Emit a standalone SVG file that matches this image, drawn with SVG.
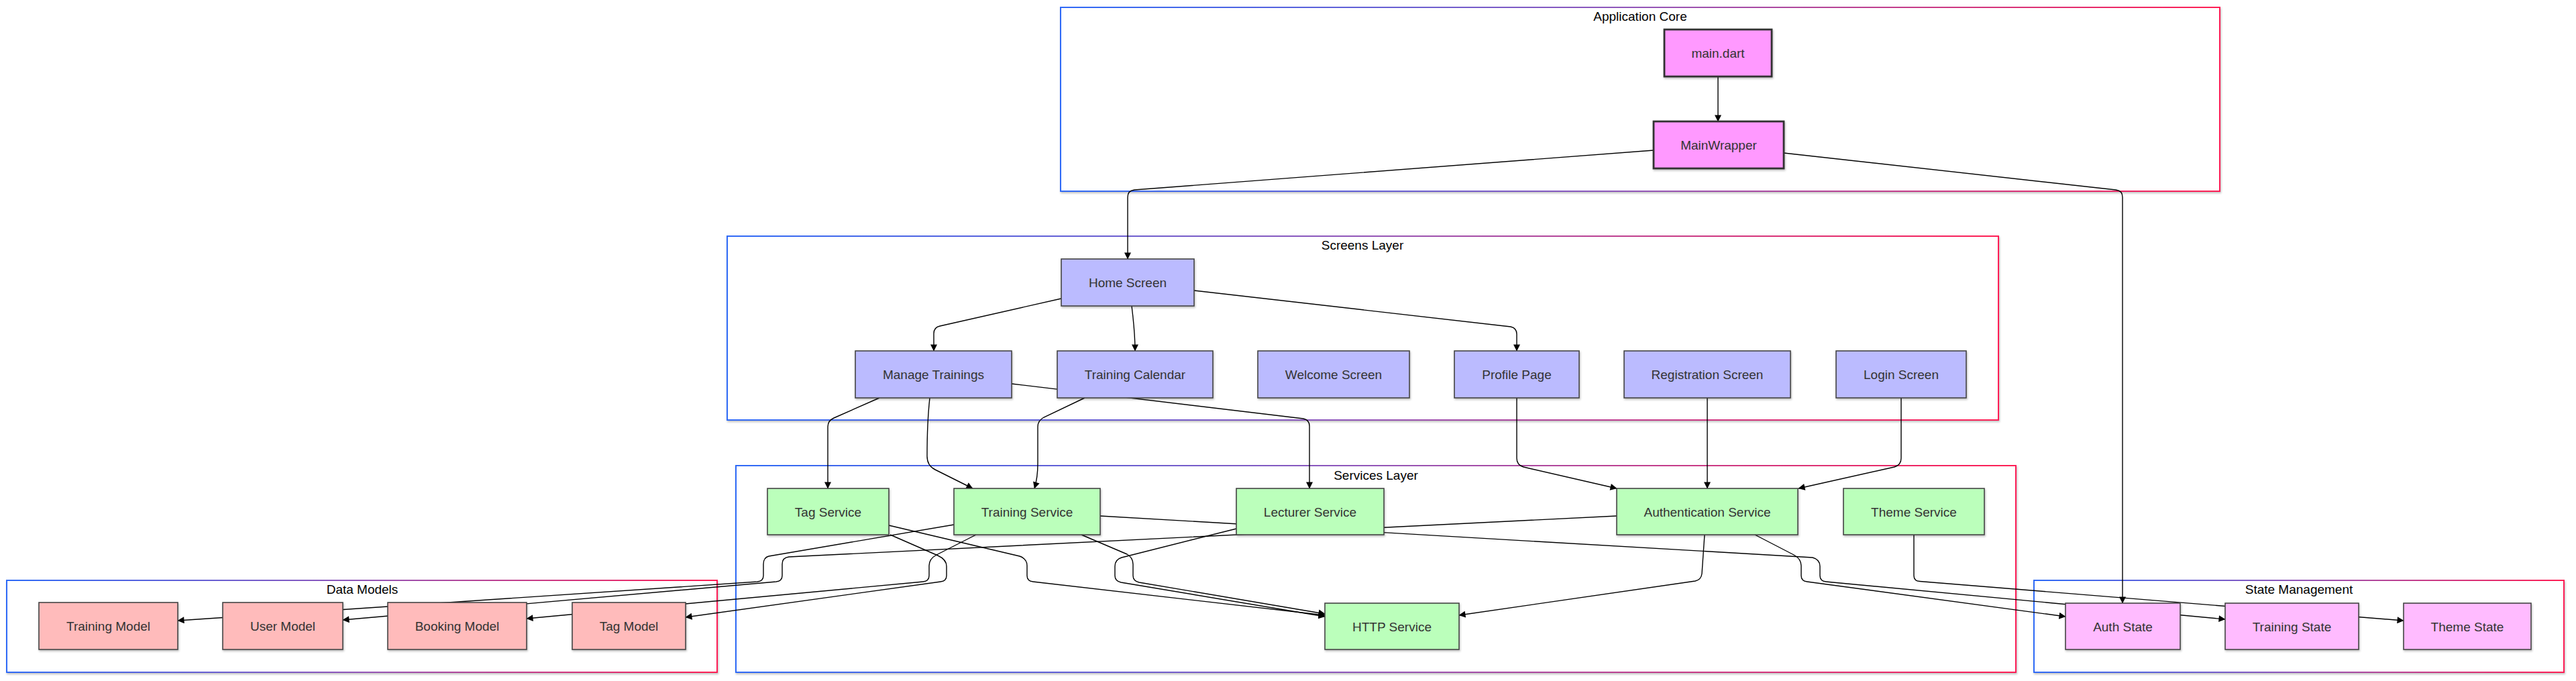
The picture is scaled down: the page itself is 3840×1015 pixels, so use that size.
<svg xmlns="http://www.w3.org/2000/svg" width="3840" height="1015" viewBox="0 0 3840 1015">
<defs>
  <linearGradient id="cg" x1="0" y1="0" x2="1" y2="0">
    <stop offset="0" stop-color="#2f6bf7"/>
    <stop offset="0.5" stop-color="#9357b8"/>
    <stop offset="1" stop-color="#ff1f55"/>
  </linearGradient>
  <filter id="sh" x="-10%" y="-10%" width="120%" height="130%">
    <feDropShadow dx="1" dy="2" stdDeviation="1.5" flood-color="#000" flood-opacity="0.25"/>
  </filter>
  <marker id="ah" viewBox="0 0 10 10" refX="9.5" refY="5" markerWidth="11" markerHeight="10" markerUnits="userSpaceOnUse" orient="auto">
    <path d="M0,0 L10,5 L0,10 z" fill="#000"/>
  </marker>
</defs>
<style>
  .cl rect { fill: #fff; stroke: url(#cg); stroke-width: 2; filter: url(#sh); }
  .cl text { font-family: "Liberation Sans", Arial, sans-serif; font-size: 19px; fill: #000; text-anchor: middle; }
  .n rect { stroke: #444; stroke-width: 1.6; filter: url(#sh); }
  .n text { font-family: "Liberation Sans", Arial, sans-serif; font-size: 19px; fill: #333; text-anchor: middle; }
  .core rect { fill: #ff99ff; stroke: #333; stroke-width: 2.8; }
  .scr rect { fill: #bbbbff; }
  .svc rect { fill: #bbffbb; }
  .mdl rect { fill: #ffbbbb; }
  .st rect { fill: #ffbbff; }
  #edges path { fill: none; stroke: #000; stroke-width: 1.4; marker-end: url(#ah); }
</style>
<rect width="3840" height="1015" fill="#fff"/>

<g id="clusters">
  <g id="cluster-core" class="cl"><rect x="1581" y="11" width="1728" height="274"/><text x="2445" y="31">Application Core</text></g>
  <g id="cluster-screens" class="cl"><rect x="1084" y="352" width="1895" height="274"/><text x="2031" y="372">Screens Layer</text></g>
  <g id="cluster-services" class="cl"><rect x="1097" y="694" width="1908" height="308"/><text x="2051" y="715">Services Layer</text></g>
  <g id="cluster-models" class="cl"><rect x="10" y="865" width="1059" height="137"/><text x="540" y="885">Data Models</text></g>
  <g id="cluster-state" class="cl"><rect x="3032" y="865" width="790" height="137"/><text x="3427" y="885">State Management</text></g>
</g>

<g id="edges">
  <path d="M2561,114 L2561,181"/>
  <path d="M2465,224 L1691,283 Q1681,284 1681,294 L1681,386"/>
  <path d="M2659,228 L3154,283 Q3164,284 3164,294 L3164,899"/>
  <path d="M1582,445 L1401,486 Q1392,488 1392,497 L1392,523"/>
  <path d="M1687,456 C1690,480 1692,500 1692,523"/>
  <path d="M1780,433 L2252,487 Q2261,489 2261,498 L2261,523"/>
  <path d="M1311,593 L1243,623 Q1234,627 1234,636 L1234,728"/>
  <path d="M1386,593 C1383,620 1382,650 1382,680 Q1382,694 1394,700 L1450,728"/>
  <path d="M1508,572 L1943,624 Q1952,626 1952,635 L1952,728"/>
  <path d="M1617,593 L1556,622 Q1547,627 1547,636 L1547,690 Q1547,712 1542,728"/>
  <path d="M2261,593 L2261,683 Q2261,693 2271,696 L2410,728"/>
  <path d="M2545,593 L2545,728"/>
  <path d="M2834,593 L2834,683 Q2834,693 2824,696 L2681,728"/>
  <path d="M1325,783 L1520,829 Q1531,833 1531,843 L1531,858 Q1531,866 1540,867 L1975,917"/>
  <path d="M1612,797 L1680,826 Q1689,831 1689,841 L1689,858 Q1689,866 1698,868 L1975,915"/>
  <path d="M1843,788 L1672,831 Q1662,834 1662,844 L1662,858 Q1662,866 1671,868 L1975,919"/>
  <path d="M2541,797 L2537,855 Q2536,864 2527,866 L2175,917"/>
  <path d="M2616,797 L2674,827 Q2685,833 2685,843 L2685,858 Q2685,866 2694,867 L3079,919"/>
  <path d="M1640,769 L2702,831 Q2713,834 2713,844 L2713,858 Q2713,866 2722,867 L3317,923"/>
  <path d="M2853,797 L2853,858 Q2853,866 2862,866.5 L3583,925"/>
  <path d="M2410,769 L1176,830 Q1166,831 1166,841 L1166,858 Q1166,866 1157,867 L511,924"/>
  <path d="M1422,782 L1146,829 Q1138,831 1138,841 L1138,858 Q1138,866 1129,867 L265,925"/>
  <path d="M1455,797 L1396,827 Q1385,833 1385,843 L1385,858 Q1385,866 1376,867 L785,922"/>
  <path d="M1327,797 L1398,828 Q1411,834 1411,844 L1411,858 Q1411,866 1402,867 L1022,920"/>
</g>

<g id="main-dart" class="n core"><rect x="2481" y="44" width="160" height="70"/><text x="2561" y="86">main.dart</text></g>
<g id="main-wrapper" class="n core"><rect x="2465" y="181" width="194" height="70"/><text x="2562" y="223">MainWrapper</text></g>

<g id="home-screen" class="n scr"><rect x="1582" y="386" width="198" height="70"/><text x="1681" y="428">Home Screen</text></g>
<g id="manage-trainings" class="n scr"><rect x="1275" y="523" width="233" height="70"/><text x="1391.5" y="565">Manage Trainings</text></g>
<g id="training-calendar" class="n scr"><rect x="1576" y="523" width="232" height="70"/><text x="1692" y="565">Training Calendar</text></g>
<g id="welcome-screen" class="n scr"><rect x="1875" y="523" width="226" height="70"/><text x="1988" y="565">Welcome Screen</text></g>
<g id="profile-page" class="n scr"><rect x="2168" y="523" width="186" height="70"/><text x="2261" y="565">Profile Page</text></g>
<g id="registration-screen" class="n scr"><rect x="2421" y="523" width="248" height="70"/><text x="2545" y="565">Registration Screen</text></g>
<g id="login-screen" class="n scr"><rect x="2737" y="523" width="194" height="70"/><text x="2834" y="565">Login Screen</text></g>

<g id="tag-service" class="n svc"><rect x="1144" y="728" width="181" height="69"/><text x="1234.5" y="769.5">Tag Service</text></g>
<g id="training-service" class="n svc"><rect x="1422" y="728" width="218" height="69"/><text x="1531" y="769.5">Training Service</text></g>
<g id="lecturer-service" class="n svc"><rect x="1843" y="728" width="220" height="69"/><text x="1953" y="769.5">Lecturer Service</text></g>
<g id="auth-service" class="n svc"><rect x="2410" y="728" width="270" height="69"/><text x="2545" y="769.5">Authentication Service</text></g>
<g id="theme-service" class="n svc"><rect x="2748" y="728" width="210" height="69"/><text x="2853" y="769.5">Theme Service</text></g>
<g id="http-service" class="n svc"><rect x="1975" y="899" width="200" height="69"/><text x="2075" y="940.5">HTTP Service</text></g>

<g id="training-model" class="n mdl"><rect x="58" y="898" width="207" height="70"/><text x="161.5" y="940">Training Model</text></g>
<g id="user-model" class="n mdl"><rect x="332" y="898" width="179" height="70"/><text x="421.5" y="940">User Model</text></g>
<g id="booking-model" class="n mdl"><rect x="578" y="898" width="207" height="70"/><text x="681.5" y="940">Booking Model</text></g>
<g id="tag-model" class="n mdl"><rect x="853" y="898" width="169" height="70"/><text x="937.5" y="940">Tag Model</text></g>

<g id="auth-state" class="n st"><rect x="3079" y="899" width="171" height="69"/><text x="3164.5" y="940.5">Auth State</text></g>
<g id="training-state" class="n st"><rect x="3317" y="899" width="199" height="69"/><text x="3416.5" y="940.5">Training State</text></g>
<g id="theme-state" class="n st"><rect x="3583" y="899" width="190" height="69"/><text x="3678" y="940.5">Theme State</text></g>
</svg>
